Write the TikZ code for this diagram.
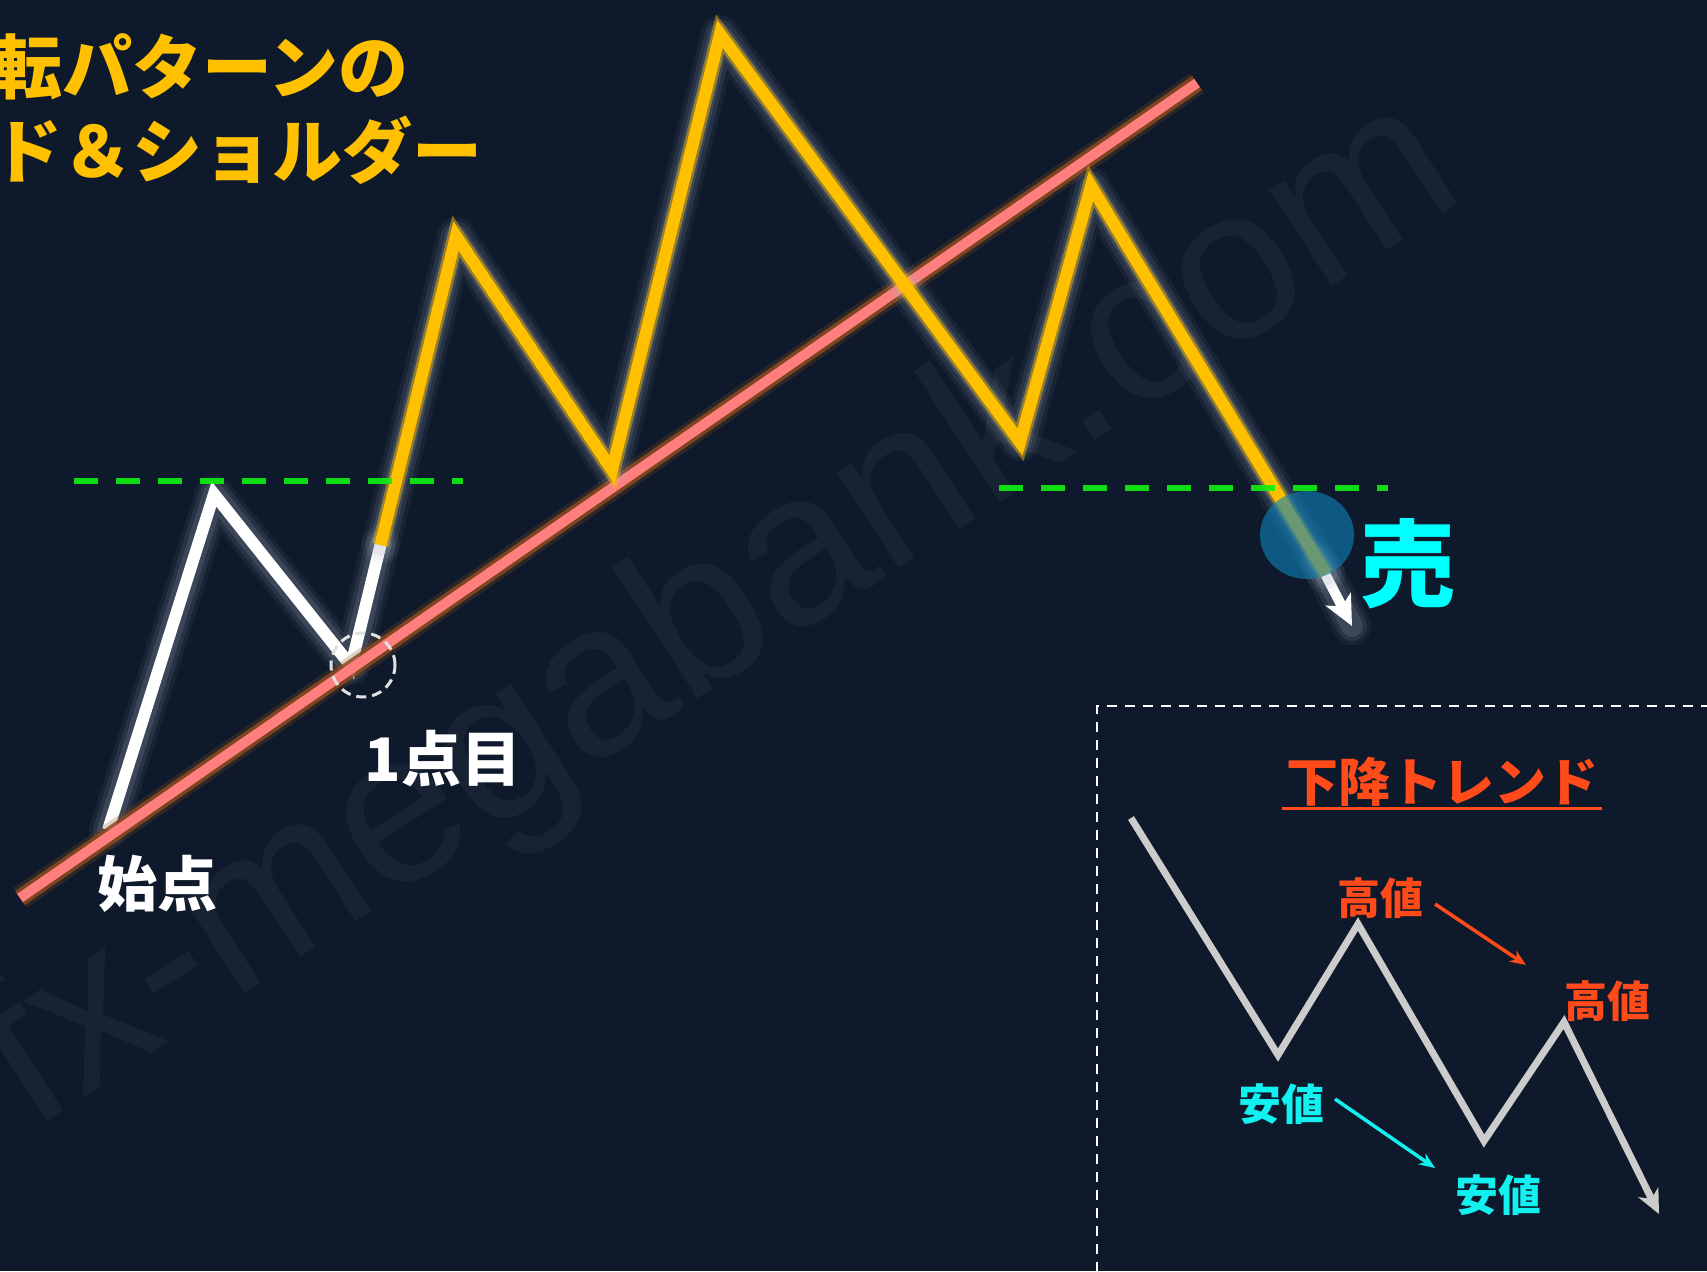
\documentclass[tikz,border=0pt]{standalone}
\usepackage{fontspec}
\newfontfamily\jp{Noto Sans CJK JP}
\newfontfamily\wmfont{Liberation Sans}
\usetikzlibrary{arrows.meta}
\definecolor{bg}{HTML}{0E1A2C}
\definecolor{wm}{HTML}{172232}
\definecolor{ylw}{HTML}{FFC000}
\definecolor{pinkl}{HTML}{FF7E7E}
\definecolor{pinkglow}{HTML}{8A4A1E}
\definecolor{grn}{HTML}{10F010}
\definecolor{redt}{HTML}{FF4A1A}
\definecolor{cyt}{HTML}{12F0F0}
\definecolor{sell}{HTML}{00FFFF}
\definecolor{bluec}{HTML}{0E80B8}
\definecolor{grayl}{HTML}{CCCCCC}
\definecolor{glowc}{HTML}{A8B4C4}
\tikzset{
  glowA/.style={glowc, line width=38pt, opacity=0.07, line join=round, line cap=round},
  glowB/.style={glowc, line width=30pt, opacity=0.11, line join=round, line cap=round},
  glowC/.style={glowc, line width=22pt, opacity=0.16, line join=round, line cap=round},
  ylwhalo/.style={ylw, line width=17pt, opacity=0.45, line join=miter},
  ylwmain/.style={ylw, line width=12pt, line join=miter},
  whtmain/.style={white, line width=12pt, line join=miter},
  pinkhalo/.style={pinkglow, line width=17pt, opacity=0.85},
  pinkmain/.style={pinkl, line width=10pt},
  greendash/.style={grn, line width=6pt, dash pattern=on 24pt off 18pt},
  boxdash/.style={white, line width=2.5pt, dash pattern=on 10pt off 8pt},
  titletext/.style={anchor=base west, inner sep=0pt, text=ylw, font=\jp\bfseries\fontsize{70}{70}\selectfont},
  labeltext/.style={anchor=base, inner sep=0pt, text=white, font=\jp\bfseries\fontsize{60}{60}\selectfont},
  insettext/.style={anchor=base, inner sep=0pt, font=\jp\bfseries\fontsize{43}{43}\selectfont},
  smallarrow/.style={line width=3.5pt, -{Stealth[length=16pt,width=13pt]}},
}
\begin{document}
\begin{tikzpicture}[x=1pt,y=-1pt]
\useasboundingbox (0,0) rectangle (1707,1271);
\clip (0,0) rectangle (1707,1271);
\fill[bg] (0,0) rectangle (1707,1271);

% watermark
\node[rotate=33, anchor=base west, inner sep=0pt, text=wm, font=\wmfont\fontsize{216}{216}\selectfont] (wmk) at (31,1132) {fx-megabank.com};

% vertices
\coordinate (w0) at (108,830);
\coordinate (w1) at (214,494);
\coordinate (w2) at (351,666);
\coordinate (y0) at (380.5,545);
\coordinate (y1) at (456,236);
\coordinate (y2) at (612,470);
\coordinate (y3) at (720,34);
\coordinate (y4) at (1020,442);
\coordinate (y5) at (1091,186);
\coordinate (y6) at (1326,574);
\coordinate (ar0) at (1318,560);
\coordinate (ar1) at (1352,626);
\coordinate (p0) at (20,898);
\coordinate (p1) at (1197,83);

% white first part
\draw[glowA] (w0) -- (w1) -- (w2) -- (y0);
\draw[glowB] (w0) -- (w1) -- (w2) -- (y0);
\draw[glowC] (w0) -- (w1) -- (w2) -- (y0);
\draw[whtmain] (w0) -- (w1) -- (w2) -- (y0);

% pink support line
\draw[pinkglow, line width=24pt, opacity=0.25] (p0) -- (p1);
\draw[pinkhalo] (p0) -- (p1);
\draw[pinkmain] (p0) -- (p1);

% white arrow at the end
\draw[glowA] (ar0) -- (ar1);
\draw[glowB] (ar0) -- (ar1);
\draw[glowC] (ar0) -- (ar1);
\draw[white, line width=10pt, -{Stealth[length=30pt,width=28pt,inset=8pt]}] (ar0) -- (ar1);

% yellow part
\draw[glowA] (y0) -- (y1) -- (y2) -- (y3) -- (y4) -- (y5) -- (y6);
\draw[glowB] (y0) -- (y1) -- (y2) -- (y3) -- (y4) -- (y5) -- (y6);
\draw[glowC] (y0) -- (y1) -- (y2) -- (y3) -- (y4) -- (y5) -- (y6);
\draw[ylwhalo] (y0) -- (y1) -- (y2) -- (y3) -- (y4) -- (y5) -- (y6);
\draw[ylwmain] (y0) -- (y1) -- (y2) -- (y3) -- (y4) -- (y5) -- (y6);

% green dashed neck lines
\coordinate (g1a) at (74,481);
\coordinate (g1b) at (463,481);
\coordinate (g2a) at (999,488);
\coordinate (g2b) at (1388,488);
\draw[greendash, opacity=0.9] (g1a) -- (g1b);
\draw[greendash, opacity=0.9] (g2a) -- (g2b);

% sell circle
\fill[bluec, opacity=0.62] (1307,535) ellipse [x radius=47pt, y radius=44pt];
\node[anchor=base, inner sep=0pt, text=sell, font=\jp\bfseries\fontsize{95}{95}\selectfont] (sellt) at (1408,599) {売};

% first point circle
\draw[white!88!black, line width=3pt, dash pattern=on 10pt off 6pt] (363,665) circle [radius=32pt];

% titles
\node[titletext] (t1) at (-8,94) {転パターンの};
\node[titletext] (t2) at (-8,177) {ド＆ショルダー};

% labels
\node[labeltext] (start) at (157,906) {始点};
\node[labeltext] (first) at (443,781) {1点目};

% inset box
\draw[boxdash] (1097,1290) -- (1097,706) -- (1720,706);
\node[insettext, text=redt, font=\jp\bfseries\fontsize{52}{52}\selectfont] (ttl) at (1442,801) {下降トレンド};
\draw[redt, line width=3pt] (1282,808.5) -- (1602,808.5);

\coordinate (d0) at (1131,818);
\coordinate (d1) at (1278,1055);
\coordinate (d2) at (1358,924);
\coordinate (d3) at (1484,1141);
\coordinate (d4) at (1564,1022);
\coordinate (d5) at (1659,1214);
\draw[grayl, line width=7pt, line join=miter, -{Stealth[length=24pt,width=22pt,inset=7pt]}] (d0) -- (d1) -- (d2) -- (d3) -- (d4) -- (d5);

\node[insettext, text=redt] (h1) at (1380,914) {高値};
\node[insettext, text=redt] (h2) at (1607,1017) {高値};
\node[insettext, text=cyt] (l1) at (1281,1120) {安値};
\node[insettext, text=cyt] (l2) at (1498,1211) {安値};
\coordinate (ra0) at (1435,904);
\coordinate (ra1) at (1526,965);
\coordinate (ca0) at (1335,1099);
\coordinate (ca1) at (1435,1168);
\draw[redt, smallarrow] (ra0) -- (ra1);
\draw[cyt, smallarrow] (ca0) -- (ca1);
\end{tikzpicture}
\end{document}
